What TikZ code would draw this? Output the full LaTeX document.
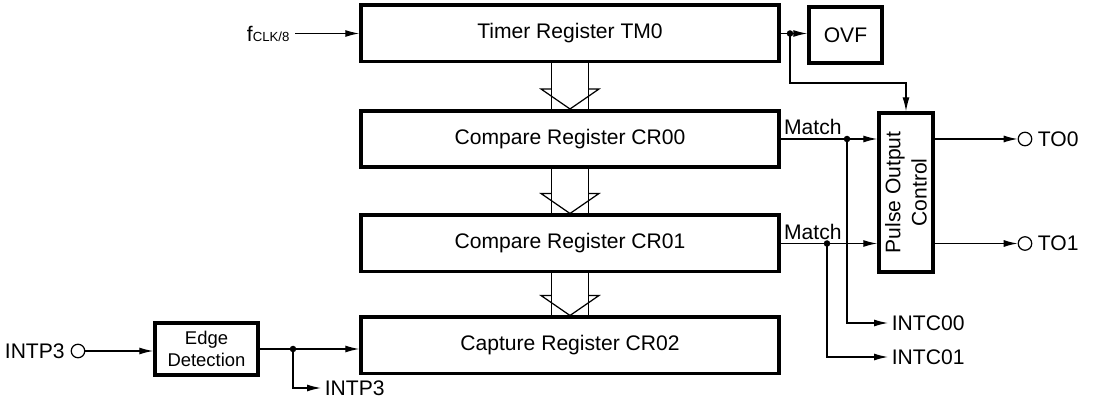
\documentclass[tikz,border=0pt]{standalone}
\usepackage{fontspec}
\setmainfont{Liberation Sans}
\usetikzlibrary{arrows.meta}
\tikzset{
	reg/.style={draw,line width=2pt,minimum width=8.36cm,minimum height=1.13cm,inner sep=0pt},
	blk/.style={draw,line width=2pt,inner sep=0pt},
	sig/.style={line width=0.7pt,-{Latex[length=2.8mm,width=1.4mm]}},
	bus/.style={line width=0.7pt},
	pin/.style={draw,circle,line width=0.7pt,minimum size=0.27cm,inner sep=0pt},
	jdot/.style={circle,fill,minimum size=0.13cm,inner sep=0pt},
	lbl/.style={anchor=west,inner sep=2pt}
}
\begin{document}
\begin{tikzpicture}[x=0.02cm,y=-0.02cm,font=\fontsize{12}{14}\selectfont]
	\useasboundingbox (0,0) rectangle (1094,404);
	
	\path (570,33.5) node[reg] (tm0) {Timer Register TM0};
	\path (570,139) node[reg] (cr00) {Compare Register CR00};
	\path (570,243.5) node[reg] (cr01) {Compare Register CR01};
	\path (570,345.5) node[reg] (cr02) {Capture Register CR02};
	\path (845.5,35) node[blk,minimum width=1.46cm,minimum height=1.12cm] (ovf) {OVF};
	\path (906,192.5) node[blk,minimum width=1.08cm,minimum height=3.18cm] (poc) {};
	\path (poc.center) node[rotate=90,align=center,font=\fontsize{12}{15}\selectfont] (poctext) {Pulse Output\\Control};
	\path (206.5,349) node[blk,minimum width=2.06cm,minimum height=1.04cm,align=center,font=\fontsize{10.5}{12.5}\selectfont] (edge) {Edge\\Detection};
	
	\foreach \a/\b in {tm0/cr00,cr00/cr01,cr01/cr02}{
		\draw[bus] ([xshift=-0.37cm]\a.south) -- ([xshift=-0.37cm]\b.north);
		\draw[bus] ([xshift=0.37cm]\a.south) -- ([xshift=0.37cm]\b.north);
		\draw[bus] ([xshift=-0.37cm,yshift=0.4cm]\b.north) -- ([xshift=-0.58cm,yshift=0.4cm]\b.north) -- (\b.north) -- ([xshift=0.58cm,yshift=0.4cm]\b.north) -- ([xshift=0.37cm,yshift=0.4cm]\b.north);
	}
	
	\path (295,33.5) node[anchor=east,inner sep=3pt] (fclk) {f{\fontsize{7.5}{8}\selectfont CLK/8}};
	\draw[sig] (fclk.east) -- (tm0.west);
	
	\path (790,33.5) node[jdot] (d0) {};
	\path (906,83) coordinate (b0);
	\draw[sig] (tm0.east) -- (tm0.east -| ovf.west);
	\draw[sig] (d0.center) |- (b0) -- (poc.north);
	
	\path (847,139) node[jdot] (m0) {};
	\path (827,243.5) node[jdot] (m1) {};
	\path (782,137) node[anchor=south west,inner sep=1pt] (match0) {Match};
	\path (782,241.5) node[anchor=south west,inner sep=1pt] (match1) {Match};
	\draw[sig] (cr00.east) -- (cr00.east -| poc.west);
	\draw[sig] (cr01.east) -- (cr01.east -| poc.west);
	\path (888,323) node[lbl] (intc00) {INTC00};
	\path (888,357) node[lbl] (intc01) {INTC01};
	\draw[sig] (m0.center) |- (intc00.west);
	\draw[sig] (m1.center) |- (intc01.west);
	
	\path (1025,139) node[pin] (to0pin) {};
	\path (1025,243.5) node[pin] (to1pin) {};
	\path (1034,139) node[lbl] (to0) {TO0};
	\path (1034,243.5) node[lbl] (to1) {TO1};
	\draw[sig] (poc.east |- to0pin) -- (to0pin.west);
	\draw[sig] (poc.east |- to1pin) -- (to1pin.west);
	
	\path (65,351) node[anchor=east,inner sep=0pt] (intp3in) {INTP3};
	\path (78,351) node[pin] (intp3pin) {};
	\draw[sig] (intp3pin.east) -- (intp3pin.east -| edge.west);
	\path (293,349) node[jdot] (d3) {};
	\draw[sig] (edge.east) -- (edge.east -| cr02.west);
	\path (321,388) node[lbl] (intp3out) {INTP3};
	\draw[sig] (d3.center) |- (intp3out.west);
\end{tikzpicture}
\end{document}
